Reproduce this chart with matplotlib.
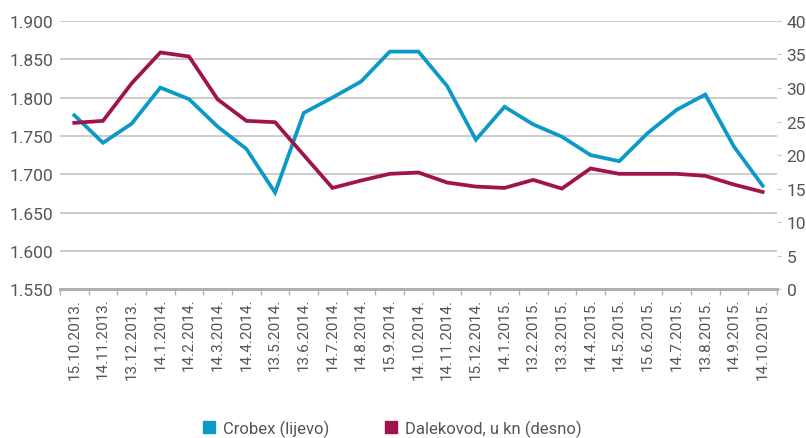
import numpy as np
import matplotlib.pyplot as plt
from matplotlib.ticker import FuncFormatter, FixedLocator
from matplotlib.lines import Line2D

dates = ["15.10.2013.", "14.11.2013.", "13.12.2013.", "14.1.2014.", "14.2.2014.",
         "14.3.2014.", "14.4.2014.", "13.5.2014.", "13.6.2014.", "14.7.2014.",
         "14.8.2014.", "15.9.2014.", "14.10.2014.", "14.11.2014.", "15.12.2014.",
         "14.1.2015.", "13.2.2015.", "13.3.2015.", "14.4.2015.", "14.5.2015.",
         "15.6.2015.", "14.7.2015.", "13.8.2015.", "14.9.2015.", "14.10.2015."]

crobex = [1777, 1741, 1766, 1813, 1798, 1762, 1733, 1676, 1780, 1800,
          1821, 1860, 1860, 1815, 1745, 1788, 1765, 1749, 1725, 1717,
          1754, 1784, 1804, 1736, 1685]

dalekovod = [24.8, 25.1, 30.7, 35.3, 34.7, 28.3, 25.1, 24.9, 20.0, 15.1,
             16.2, 17.2, 17.4, 15.9, 15.3, 15.1, 16.3, 15.0, 18.0, 17.2,
             17.2, 17.2, 16.9, 15.6, 14.5]

blue = "#0b9ac8"
red = "#a0134c"
txt = "#555555"
plt.rcParams['font.family'] = ['Roboto', 'DejaVu Sans']

fig = plt.figure(figsize=(8.06, 4.39), dpi=100)
ax = fig.add_axes([0.0744, 0.339, 0.8896, 0.611])
ax2 = ax.twinx()

x = np.arange(len(dates))
ax.plot(x, crobex, color=blue, lw=2.7, solid_joinstyle='miter')
ax2.plot(x, dalekovod, color=red, lw=2.7, solid_joinstyle='miter')

ax.set_xlim(-0.5, len(dates) - 0.5)
ax.set_ylim(1550, 1900)
ax2.set_ylim(0, 40)
ax.set_yticks(np.arange(1550, 1901, 50))
ax2.set_yticks(np.arange(0, 41, 5))
ax.yaxis.set_major_formatter(FuncFormatter(lambda v, p: f"{v/1000:.3f}"))

ax.grid(axis='y', color='#c4c4c4', lw=1.2)
ax.set_axisbelow(True)

ax.set_xticks(x)
ax.set_xticklabels(dates, rotation=90, fontsize=11, color=txt)
ax.xaxis.set_minor_locator(FixedLocator(np.arange(-0.5, len(dates), 1)))
ax.tick_params(axis='x', which='major', length=0, pad=6)
ax.tick_params(axis='x', which='minor', length=4, color='#b0b0b0', width=1)
ax.tick_params(axis='y', length=0, labelsize=12.5, labelcolor=txt, pad=5)
ax2.tick_params(axis='y', length=3, color='#c4c4c4', labelsize=12.5, labelcolor=txt, pad=4)

for a in (ax, ax2):
    for s in ('top', 'left', 'right'):
        a.spines[s].set_visible(False)
    a.spines['bottom'].set_color('#b0b0b0')
    a.spines['bottom'].set_linewidth(2)

handles = [Line2D([], [], marker='s', color='none', markerfacecolor=blue, markeredgecolor=blue, markersize=8),
           Line2D([], [], marker='s', color='none', markerfacecolor=red, markeredgecolor=red, markersize=8)]
fig.legend(handles, ["Crobex (lijevo)", "Dalekovod, u kn (desno)"], loc='center',
           bbox_to_anchor=(0.485, 0.022), ncol=2, frameon=False, fontsize=12,
           labelcolor=txt, handletextpad=0.35, columnspacing=3.2, handlelength=1)

fig.savefig("out.png", dpi=100)
